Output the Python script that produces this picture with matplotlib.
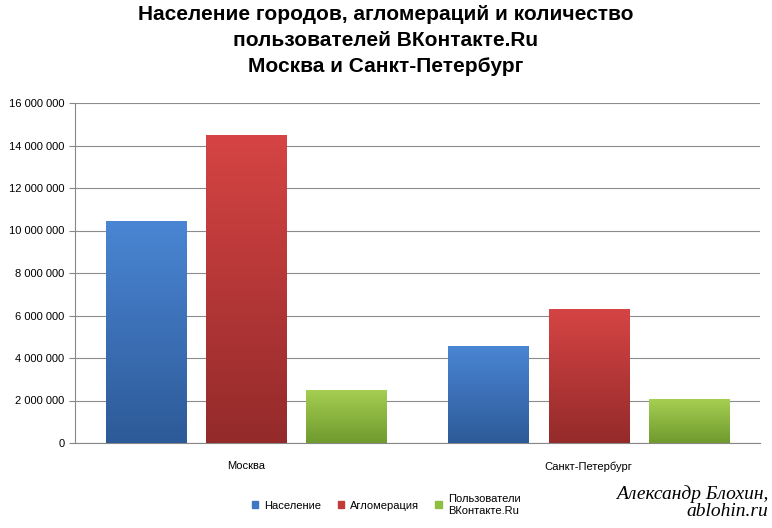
import matplotlib
matplotlib.use('Agg')
import matplotlib.pyplot as plt
import matplotlib.ticker as mticker
import numpy as np
from matplotlib.patches import Rectangle

cities = ['Москва', 'Санкт-Петербург']
series = ['Население', 'Агломерация', 'Пользователи\nВКонтакте.Ru']
population = [10470000, 4580000]
agglomeration = [14500000, 6300000]
vk_users = [2500000, 2050000]
values = [population, agglomeration, vk_users]

# (top colour, bottom colour) for gradient fill
colors = [('#4a86d4', '#2d5a98'), ('#d64444', '#942a2a'), ('#a6cf52', '#6f9a2e')]
legend_colors = ['#3f77c2', '#c23b3b', '#8fbf40']

plt.rcParams['font.family'] = ['Liberation Sans', 'DejaVu Sans']
fig = plt.figure(figsize=(7.72, 5.28), dpi=100)
ax = fig.add_axes([75 / 772, 1 - 443 / 528, 685 / 772, 340 / 528])

width = 0.235
step = 0.293
for i, (vals, (ctop, cbot)) in enumerate(zip(values, colors)):
    for j, v in enumerate(vals):
        x0 = j + (i - 1) * step - width / 2
        grad = np.linspace(0, 1, 256).reshape(-1, 1)
        c1 = np.array(matplotlib.colors.to_rgb(ctop))
        c2 = np.array(matplotlib.colors.to_rgb(cbot))
        img = c1 + (c2 - c1) * grad[:, :, None]
        im = ax.imshow(img, extent=[x0, x0 + width, 0, v], aspect='auto',
                       origin='upper', zorder=3)
        rect = Rectangle((x0, 0), width, v, transform=ax.transData)
        im.set_clip_path(rect)

ax.set_xlim(-0.5, 1.5)
ax.set_ylim(0, 16000000)
ax.yaxis.set_major_locator(mticker.MultipleLocator(2000000))
ax.yaxis.set_major_formatter(mticker.FuncFormatter(lambda v, p: f'{int(v):,}'.replace(',', ' ')))
ax.set_xticks([0, 1])
ax.set_xticklabels(cities)
ax.tick_params(axis='both', labelsize=8, length=0)
ax.tick_params(axis='x', pad=13)
ax.tick_params(axis='y', length=4, color='#888888')
ax.grid(axis='y', color='#8c8c8c', linewidth=0.8, zorder=0)
for s in ['top', 'right']:
    ax.spines[s].set_visible(False)
ax.spines['bottom'].set_color('#888888')
ax.spines['left'].set_color('#888888')

fig.text(0.5, 0.99, 'Население городов, агломераций и количество\nпользователей ВКонтакте.Ru\nМосква и Санкт-Петербург',
         ha='center', va='top', fontsize=15, fontweight='bold', linespacing=1.45)

handles = [Rectangle((0, 0), 1, 1, color=c) for c in legend_colors]
leg = fig.legend(handles, series, loc='upper center', bbox_to_anchor=(0.5, 1 - 484 / 528),
                 ncol=3, frameon=False, fontsize=8, handlelength=0.6, handleheight=0.6,
                 columnspacing=1.5, handletextpad=0.5)

fig.text(0.995, 0.015, 'Александр Блохин,\nablohin.ru', ha='right', va='bottom',
         fontsize=14, fontstyle='italic', family=['Liberation Serif', 'DejaVu Serif'],
         linespacing=1.0)

fig.savefig('out.png', dpi=100)
